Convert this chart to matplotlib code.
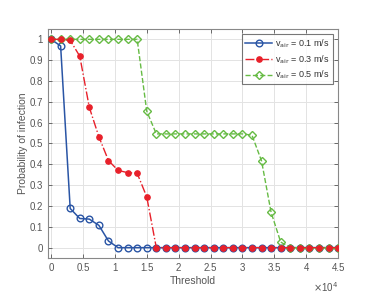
import numpy as np
import matplotlib
matplotlib.use("Agg")
import matplotlib.pyplot as plt
from matplotlib.ticker import FuncFormatter

# ---- data ----
threshold = np.arange(0, 45001, 1500)

p_v01 = [1.0, 0.968, 0.188, 0.14, 0.137, 0.107, 0.032, 0, 0, 0, 0,
         0, 0, 0, 0, 0, 0, 0, 0, 0, 0,
         0, 0, 0, 0, 0, 0, 0, 0, 0, 0]
p_v03 = [1.0, 1.0, 0.995, 0.919, 0.673, 0.532, 0.418, 0.371, 0.36, 0.357, 0.244,
         0, 0, 0, 0, 0, 0, 0, 0, 0, 0,
         0, 0, 0, 0, 0, 0, 0, 0, 0, 0]
p_v05 = [1.0, 1.0, 1.0, 1.0, 1.0, 1.0, 1.0, 1.0, 1.0, 1.0, 0.655,
         0.546, 0.546, 0.546, 0.546, 0.546, 0.546, 0.546, 0.546, 0.546, 0.546,
         0.54, 0.416, 0.169, 0.027, 0, 0, 0, 0, 0, 0]

labels = [r"v$_{\rm air}$ = 0.1 m/s", r"v$_{\rm air}$ = 0.3 m/s", r"v$_{\rm air}$ = 0.5 m/s"]

plt.rcParams["font.family"] = ["Liberation Sans", "DejaVu Sans"]
plt.rcParams["font.size"] = 7

fig = plt.figure(figsize=(3.74, 2.98), dpi=100)
ax = fig.add_axes([0.128, 0.134, 0.776, 0.769])

ax.plot(threshold, p_v01, "-", color="#2a55a5", lw=1.1, marker="o", ms=4.8,
        mfc="none", mew=1.0, label=labels[0], zorder=3)
ax.plot(threshold, p_v05, "--", color="#66bb44", lw=1.0, marker="D", ms=4.0,
        mfc="none", mew=1.0, label=labels[2], zorder=4)
ax.plot(threshold, p_v03, "-.", color="#e8202a", lw=1.0, marker="o", ms=3.8,
        mfc="#e8202a", mew=1.0, label=labels[1], zorder=5)

ax.set_xlim(-500, 45000)
ax.set_ylim(-0.05, 1.05)
ax.set_xticks(np.arange(0, 45001, 5000))
ax.set_yticks(np.arange(0, 1.01, 0.1))
ax.xaxis.set_major_formatter(FuncFormatter(lambda v, p: f"{v/1e4:g}"))
ax.yaxis.set_major_formatter(FuncFormatter(lambda v, p: f"{v:.1f}".rstrip("0").rstrip(".") if v > 0.001 else "0"))

ax.grid(True, color="#e3e3e3", lw=0.7)
ax.set_axisbelow(True)
ax.tick_params(direction="in", top=True, right=True, length=3, width=0.6,
               colors="#555555", labelcolor="#555555", labelsize=7)
for s in ax.spines.values():
    s.set_color("#888888")
    s.set_linewidth(0.8)

ax.set_xlabel("Threshold", color="#555555", fontsize=7.5, labelpad=2)
ax.set_ylabel("Probability of infection", color="#555555", fontsize=7.5, labelpad=1)
ax.text(1.0, -0.095, r"$\times$10$^4$", transform=ax.transAxes, ha="right", va="top",
        color="#555555", fontsize=7)

h, l = ax.get_legend_handles_labels()
order = [0, 2, 1]
leg = ax.legend([h[i] for i in order], [l[i] for i in order], loc="upper right",
                fontsize=6.5, frameon=True, fancybox=False, edgecolor="#555555",
                borderaxespad=0.6, handlelength=3.0, labelspacing=0.35,
                borderpad=0.35, handletextpad=0.3)
leg.get_frame().set_linewidth(0.8)
for t in leg.get_texts():
    t.set_color("#333333")

fig.savefig("out.png", dpi=100, facecolor="white")
